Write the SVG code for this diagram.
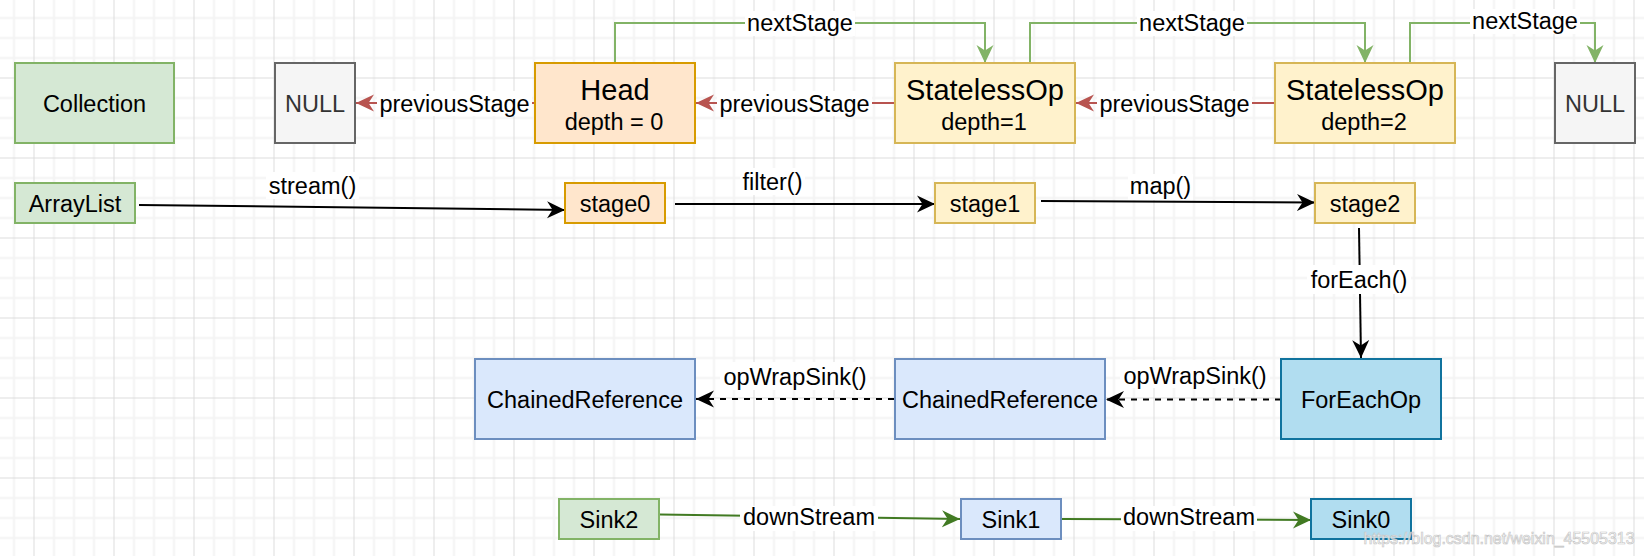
<svg xmlns="http://www.w3.org/2000/svg" width="1644" height="556" viewBox="0 0 1644 556">
<defs>
<pattern id="grid" x="33.5" y="77.5" width="80" height="80" patternUnits="userSpaceOnUse">
<path d="M20.5,0 V80 M40.5,0 V80 M60.5,0 V80 M0,20.5 H80 M0,40.5 H80 M0,60.5 H80" stroke="#f3f3f3" stroke-width="2" fill="none"/>
<path d="M0.5,0 V80 M0,0.5 H80" stroke="#dcdcdc" stroke-width="1" fill="none"/>
</pattern>
<marker id="mBlack" viewBox="0 0 18 18" refX="18" refY="9" markerWidth="18" markerHeight="18" markerUnits="userSpaceOnUse" orient="auto"><path d="M0,0.5 L18,9 L0,17.5 L5.5,9 Z" fill="#000000"/></marker>
<marker id="mRed" viewBox="0 0 18 18" refX="18" refY="9" markerWidth="18" markerHeight="18" markerUnits="userSpaceOnUse" orient="auto"><path d="M0,0.5 L18,9 L0,17.5 L5.5,9 Z" fill="#b85450"/></marker>
<marker id="mGreen" viewBox="0 0 18 18" refX="18" refY="9" markerWidth="18" markerHeight="18" markerUnits="userSpaceOnUse" orient="auto"><path d="M0,0.5 L18,9 L0,17.5 L5.5,9 Z" fill="#82b366"/></marker>
<marker id="mDark" viewBox="0 0 18 18" refX="18" refY="9" markerWidth="18" markerHeight="18" markerUnits="userSpaceOnUse" orient="auto"><path d="M0,0.5 L18,9 L0,17.5 L5.5,9 Z" fill="#417a22"/></marker>
<style>
text{font-family:"Liberation Sans",Arial,Helvetica,sans-serif;fill:#000000;text-anchor:middle;}
.t{font-size:23.5px;}
.big{font-size:29px;}
.nul{fill:#333333;}
.lbl{font-size:23.5px;}
.lb{fill:#ffffff;}
.green{fill:#d5e8d4;stroke:#82b366;stroke-width:2;}
.gray{fill:#f5f5f5;stroke:#666666;stroke-width:2;}
.orange{fill:#ffe6cc;stroke:#d79b00;stroke-width:2;}
.yellow{fill:#fff2cc;stroke:#d6b656;stroke-width:2;}
.blue{fill:#dae8fc;stroke:#6c8ebf;stroke-width:2;}
.dblue{fill:#b1ddf0;stroke:#10739e;stroke-width:2;}
.e{fill:none;stroke-width:2;}
.red{stroke:#b85450;marker-end:url(#mRed);}
.nxt{stroke:#82b366;marker-end:url(#mGreen);}
.blk{stroke:#000000;marker-end:url(#mBlack);}
.dash{stroke:#000000;stroke-dasharray:6 6;marker-end:url(#mBlack);}
.ds{stroke:#417a22;marker-end:url(#mDark);}
</style>
</defs>
<rect width="1644" height="556" fill="#ffffff"/>
<rect width="1644" height="556" fill="url(#grid)"/>

<g id="connectors">
<path class="e red" d="M535,103 H356"/>
<path class="e red" d="M895,103 H696"/>
<path class="e red" d="M1275,103 H1076"/>
<path class="e nxt" d="M615,63 V23 H985 V63"/>
<path class="e nxt" d="M1030,63 V23 H1365 V63"/>
<path class="e nxt" d="M1410,63 V23 H1595 V63"/>
<path class="e blk" d="M139,205 L565,210"/>
<path class="e blk" d="M675,204 L935,204"/>
<path class="e blk" d="M1041,201 L1315,202.5"/>
<path class="e blk" d="M1359,228 L1361,358"/>
<path class="e dash" d="M1281,399.5 H1106"/>
<path class="e dash" d="M894,399 H696"/>
<path class="e ds" d="M660,514.5 L960,519"/>
<path class="e ds" d="M1062,519 L1311,520"/>

<rect class="lb" x="377" y="91" width="155" height="25"/>
<text class="lbl" x="454.5" y="111.5">previousStage</text>
<rect class="lb" x="717" y="91" width="155" height="25"/>
<text class="lbl" x="794.5" y="111.5">previousStage</text>
<rect class="lb" x="1097" y="91" width="155" height="25"/>
<text class="lbl" x="1174.5" y="111.5">previousStage</text>
<rect class="lb" x="745" y="11" width="110" height="25"/>
<text class="lbl" x="800" y="31">nextStage</text>
<rect class="lb" x="1137" y="11" width="110" height="25"/>
<text class="lbl" x="1192" y="31">nextStage</text>
<rect class="lb" x="1470" y="9" width="110" height="25"/>
<text class="lbl" x="1525" y="29">nextStage</text>
<rect class="lb" x="266" y="172" width="93" height="27"/>
<text class="lbl" x="312.5" y="193.5">stream()</text>
<rect class="lb" x="740" y="168" width="65" height="27"/>
<text class="lbl" x="772.5" y="190">filter()</text>
<rect class="lb" x="1128" y="174" width="65" height="26"/>
<text class="lbl" x="1160.5" y="193.5">map()</text>
<rect class="lb" x="1307" y="265" width="104" height="29"/>
<text class="lbl" x="1359" y="287.5">forEach()</text>
<rect class="lb" x="720" y="362" width="150" height="28"/>
<text class="lbl" x="795" y="384.5">opWrapSink()</text>
<rect class="lb" x="1120" y="360" width="150" height="28"/>
<text class="lbl" x="1195" y="383.5">opWrapSink()</text>
<rect class="lb" x="740" y="506" width="138" height="25"/>
<text class="lbl" x="809" y="525">downStream</text>
<rect class="lb" x="1121" y="506" width="136" height="25"/>
<text class="lbl" x="1189" y="525">downStream</text>
</g>

<g id="collection"><rect class="green" x="15" y="63" width="159" height="80"/><text class="t" x="94.5" y="111.5">Collection</text></g>
<g id="null-left"><rect class="gray" x="275" y="63" width="80" height="80"/><text class="t nul" x="315" y="111.5">NULL</text></g>
<g id="head"><rect class="orange" x="535" y="63" width="160" height="80"/><text class="big" x="615" y="100">Head</text><text class="t" x="614" y="129.5">depth = 0</text></g>
<g id="stateless1"><rect class="yellow" x="895" y="63" width="180" height="80"/><text class="big" x="985" y="100">StatelessOp</text><text class="t" x="984" y="129.5">depth=1</text></g>
<g id="stateless2"><rect class="yellow" x="1275" y="63" width="180" height="80"/><text class="big" x="1365" y="100">StatelessOp</text><text class="t" x="1364" y="129.5">depth=2</text></g>
<g id="null-right"><rect class="gray" x="1555" y="63" width="80" height="80"/><text class="t nul" x="1595" y="111.5">NULL</text></g>

<g id="arraylist"><rect class="green" x="15" y="183" width="120" height="40"/><text class="t" x="75" y="211.5">ArrayList</text></g>
<g id="stage0"><rect class="orange" x="565" y="183" width="100" height="40"/><text class="t" x="615" y="211.5">stage0</text></g>
<g id="stage1"><rect class="yellow" x="935" y="183" width="100" height="40"/><text class="t" x="985" y="211.5">stage1</text></g>
<g id="stage2"><rect class="yellow" x="1315" y="183" width="100" height="40"/><text class="t" x="1365" y="211.5">stage2</text></g>

<g id="chained-left"><rect class="blue" x="475" y="359" width="220" height="80"/><text class="t" x="585" y="407.5">ChainedReference</text></g>
<g id="chained-mid"><rect class="blue" x="895" y="359" width="210" height="80"/><text class="t" x="1000" y="407.5">ChainedReference</text></g>
<g id="foreachop"><rect class="dblue" x="1281" y="359" width="160" height="80"/><text class="t" x="1361" y="407.5">ForEachOp</text></g>

<g id="sink2"><rect class="green" x="559" y="499" width="100" height="40"/><text class="t" x="609" y="527.5">Sink2</text></g>
<g id="sink1"><rect class="blue" x="961" y="499" width="100" height="40"/><text class="t" x="1011" y="527.5">Sink1</text></g>
<g id="sink0"><rect class="dblue" x="1311" y="499" width="100" height="40"/><text class="t" x="1361" y="527.5">Sink0</text></g>

<text x="1499" y="544" style="font-size:17px;fill:#ffffff;fill-opacity:0.75;stroke:#c4c4c4;stroke-width:0.7" textLength="271" lengthAdjust="spacingAndGlyphs">https://blog.csdn.net/weixin_45505313</text>
</svg>
